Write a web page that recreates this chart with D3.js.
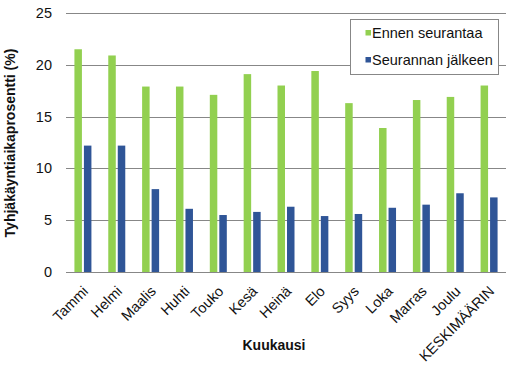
<!DOCTYPE html>
<html>
<head>
<meta charset="utf-8">
<script src="https://cdn.jsdelivr.net/npm/d3@7"></script>
<style>
  body { margin: 0; background: #fff; }
  text { font-family: "Liberation Sans", Arial, sans-serif; }
</style>
</head>
<body>
<div id="wrapper"></div>
<script>
const months = ["Tammi", "Helmi", "Maalis", "Huhti", "Touko", "Kesä", "Heinä", "Elo", "Syys", "Loka", "Marras", "Joulu", "KESKIMÄÄRIN"];
const ennen = [21.5, 20.9, 17.9, 17.9, 17.1, 19.1, 18.0, 19.4, 16.3, 13.9, 16.6, 16.9, 18.0];
const jalkeen = [12.2, 12.2, 8.0, 6.1, 5.5, 5.8, 6.3, 5.4, 5.6, 6.2, 6.5, 7.6, 7.2];
const seriesNames = ["Ennen seurantaa", "Seurannan jälkeen"];
const yTicks = [0, 5, 10, 15, 20, 25];

function drawChart() {
  const dimensions = {
    width: 507,
    height: 365,
    margin: { top: 13, right: 0, bottom: 93, left: 66 },
  };
  const innerWidth = dimensions.width - dimensions.margin.left - dimensions.margin.right - 1;
  const innerHeight = dimensions.height - dimensions.margin.top - dimensions.margin.bottom;

  const colors = ["#92d050", "#2f5597"];

  const svg = d3
    .select("#wrapper")
    .append("svg")
    .attr("width", dimensions.width)
    .attr("height", dimensions.height);

  const bounds = svg
    .append("g")
    .attr("transform", `translate(${dimensions.margin.left},${dimensions.margin.top})`);

  const xScale = d3.scaleBand().domain(months).range([0, innerWidth]);
  const yScale = d3.scaleLinear().domain([0, 25]).range([innerHeight, 0]);

  // gridlines
  bounds
    .selectAll("line.grid")
    .data(yTicks)
    .enter()
    .append("line")
    .attr("class", "grid")
    .attr("x1", 0)
    .attr("x2", innerWidth)
    .attr("y1", (d) => Math.round(yScale(d)) + 0.5)
    .attr("y2", (d) => Math.round(yScale(d)) + 0.5)
    .attr("stroke", "#878787")
    .attr("stroke-width", 1);

  // y tick labels
  bounds
    .selectAll("text.ytick")
    .data(yTicks)
    .enter()
    .append("text")
    .attr("class", "ytick")
    .attr("x", -14)
    .attr("y", (d) => yScale(d))
    .attr("dy", "0.35em")
    .attr("text-anchor", "end")
    .attr("font-size", 14.5)
    .attr("fill", "#111")
    .text((d) => d);

  const barWidth = 7.5;
  const gap = 2;
  const series = [ennen, jalkeen];

  series.forEach((values, s) => {
    bounds
      .selectAll(`rect.s${s}`)
      .data(values)
      .enter()
      .append("rect")
      .attr("class", `s${s}`)
      .attr("x", (_, i) => {
        const center = xScale(months[i]) + xScale.bandwidth() / 2;
        return s === 0 ? center - gap / 2 - barWidth : center + gap / 2;
      })
      .attr("y", (d) => yScale(d))
      .attr("width", barWidth)
      .attr("height", (d) => innerHeight - yScale(d))
      .attr("fill", colors[s]);
  });

  // x labels rotated
  bounds
    .selectAll("text.xtick")
    .data(months)
    .enter()
    .append("text")
    .attr("class", "xtick")
    .attr("transform", (d) => {
      const x = xScale(d) + xScale.bandwidth() / 2 - 1;
      return `translate(${x},${innerHeight + 13}) rotate(-45)`;
    })
    .attr("text-anchor", "end")
    .attr("dy", "0.7em")
    .attr("font-size", 14.5)
    .attr("fill", "#111")
    .text((d) => d);

  // axis titles
  svg
    .append("text")
    .attr("x", 274)
    .attr("y", 350)
    .attr("text-anchor", "middle")
    .attr("font-size", 14)
    .attr("font-weight", "bold")
    .attr("fill", "#111")
    .text("Kuukausi");

  svg
    .append("text")
    .attr("transform", "translate(15,143) rotate(-90)")
    .attr("text-anchor", "middle")
    .attr("font-size", 14)
    .attr("font-weight", "bold")
    .attr("fill", "#111")
    .text("Tyhjäkäyntiaikaprosentti (%)");

  // legend
  const legend = svg.append("g").attr("transform", "translate(350.5,19.5)");
  legend
    .append("rect")
    .attr("width", 148)
    .attr("height", 55)
    .attr("fill", "#fff")
    .attr("stroke", "#878787");

  const items = legend
    .selectAll("g.item")
    .data(seriesNames)
    .enter()
    .append("g")
    .attr("class", "item")
    .attr("transform", (_, i) => `translate(15,${13.5 + i * 27})`);

  items
    .append("rect")
    .attr("width", 5.5)
    .attr("height", 5.5)
    .attr("y", -3)
    .attr("fill", (_, i) => colors[i]);

  items
    .append("text")
    .attr("x", 6.5)
    .attr("dy", "0.35em")
    .attr("font-size", 14.5)
    .attr("fill", "#111")
    .text((d) => d);
}

drawChart();
</script>
</body>
</html>
